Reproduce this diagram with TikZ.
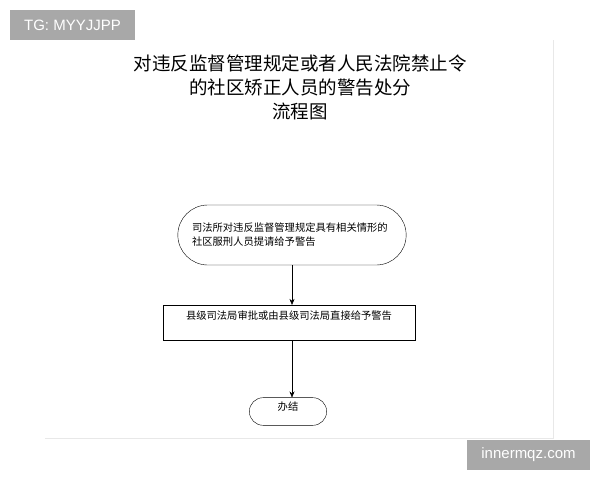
\documentclass[tikz,border=0pt]{standalone}
\usepackage{fontspec}
\setmainfont{Liberation Sans}
\newfontfamily\cjk{Noto Sans CJK SC}
\usepackage{tikz}
\usetikzlibrary{shapes.misc}
\usetikzlibrary{arrows.meta}
\usepackage{xcolor}
\definecolor{ColMark}{RGB}{168,168,168}
\definecolor{ColRule}{RGB}{232,232,232}
\tikzstyle{TitleFlow}=[align=center,font=\cjk\fontsize{18.5}{24}\selectfont]
\tikzstyle{StartFlow}=[rounded rectangle,draw,thin,minimum width=235pt,minimum height=60pt,
text width=200pt,align=left,font=\cjk\fontsize{10.3}{14}\selectfont]
\tikzstyle{StepFlow}=[rectangle,draw,thin,minimum width=252pt,inner ysep=6pt,text depth=14pt,
font=\cjk\fontsize{10.3}{14}\selectfont]
\tikzstyle{EndFlow}=[rounded rectangle,draw,thin,minimum width=84pt,inner ysep=4pt,text depth=11pt,
font=\cjk\fontsize{10.3}{14}\selectfont]
\tikzstyle{ArrowFlow}=[-{Stealth[length=6pt,width=5pt]},thin]
\tikzstyle{MarkBox}=[fill=ColMark,text=white,inner sep=0pt,font=\fontsize{15}{18}\selectfont]

\begin{document}
\begin{tikzpicture}[x=1pt,y=-1pt]
        \useasboundingbox (0,0) rectangle (600,480);
        \draw[ColRule](553,40)--(553,438)--(45,438);
        \node[MarkBox,minimum width=125pt,minimum height=30pt](tg)at(72.5,25){TG: MYYJJPP};
        \node[MarkBox,minimum width=123pt,minimum height=30pt](site)at(528.5,455){innermqz.com};
        \node[TitleFlow](title)at(300,87){对违反监督管理规定或者人民法院禁止令\\的社区矫正人员的警告处分\\流程图};
        \node[StartFlow](start)at(292,235){司法所对违反监督管理规定具有相关情形的\\社区服刑人员提请给予警告};
        \node[StepFlow](step)at(289,322.5){县级司法局审批或由县级司法局直接给予警告};
        \node[EndFlow](done)at(288,411.5){办结};
        \draw[ArrowFlow](start.south)--(start.south|-step.north);
        \draw[ArrowFlow](start.south|-step.south)--(start.south|-done.north);
    \end{tikzpicture}
\end{document}
